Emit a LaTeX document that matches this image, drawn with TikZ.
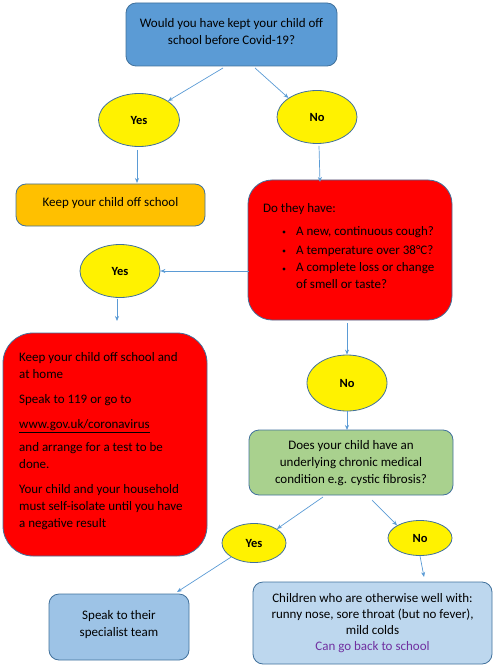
\documentclass[tikz,border=0pt]{standalone}
\usepackage{fontspec}
\setmainfont{Carlito}
\usetikzlibrary{arrows.meta,shapes.geometric}
\definecolor{bord}{HTML}{41719C}
\definecolor{arr}{HTML}{5B9BD5}
\definecolor{topblue}{HTML}{5B9BD5}
\definecolor{amber}{HTML}{FFC000}
\definecolor{green1}{HTML}{A9D18E}
\definecolor{blue2}{HTML}{9DC3E6}
\definecolor{blue3}{HTML}{BDD7EE}
\definecolor{purp}{HTML}{7030A0}
\tikzset{
  box/.style={draw=bord, line width=0.8pt, rounded corners=10pt},
  ans/.style={draw=bord, line width=0.8pt, fill=yellow, ellipse, inner sep=0pt, font=\fontsize{12.5}{14}\selectfont\bfseries},
  con/.style={draw=arr, line width=0.7pt, -{Stealth[length=5pt,width=4pt]}},
  txt/.style={font=\fontsize{13}{17}\selectfont, align=center, inner sep=0pt}
}
\begin{document}
\begin{tikzpicture}[x=1pt,y=-1pt]
\useasboundingbox (0,0) rectangle (495,668);
% top box
\draw[box, fill=topblue] (126,3) rectangle (337,66);
\node[txt] (q1) at (231.5,31.5) {Would you have kept your child off\\school before Covid-19?};
\coordinate (q1a) at (223,68);
\coordinate (q1b) at (255,68);
% ellipses
\node[ans, minimum width=81pt, minimum height=53pt] (y1) at (139,120) {Yes};
\node[ans, minimum width=80pt, minimum height=53pt] (n1) at (317,117) {No};
\draw[con] (q1a) -- (y1.north east);
\draw[con] (q1b) -- (n1.north west);
% keep box
\draw[box, fill=amber] (16,184) rectangle (205,226);
\node[txt] (k1) at (110.5,203) {Keep your child off school};
\coordinate (k1t) at (137,183);
\draw[con] (y1.south) ++(-2,3) -- (k1t);
% red box 1
\draw[box, fill=red, rounded corners=24pt] (248,180) rectangle (452,320);
\node[txt, align=left, anchor=west] (r1) at (263,209) {Do they have:};
\foreach \yy/\t in {232/{A new, continuous cough?},251/{A temperature over 38°C?}} {
  \fill (284,\yy) circle (1.7pt);
  \node[txt, anchor=west] at (296,\yy) {\t};
}
\fill (284,269) circle (1.7pt);
\node[txt, anchor=north west, align=left] (r1b) at (296,262) {A complete loss or change\\of smell or taste?};
\coordinate (r1t) at (320,182);
\draw[con] (n1.south) ++(2,2) -- (r1t);
\coordinate (r1l) at (249,271);
\node[ans, minimum width=80pt, minimum height=53pt] (y2) at (120,271) {Yes};
\draw[con] (r1l) -- (y2.east);
% red box 2
\draw[box, fill=red, rounded corners=30pt] (3,333) rectangle (207,556);
\node[txt, anchor=north west, align=left] (r2) at (19,352) {%
Keep your child off school and\\at home\\[8pt]
Speak to 119 or go to\\[8pt]
\underline{www.gov.uk/coronavirus}\\[6pt]
and arrange for a test to be\\done.\\[8pt]
Your child and your household\\must self-isolate until you have\\a negative result};
\coordinate (r2t) at (117,321);
\draw[con] (y2.south) ++(-3,1) -- (r2t);
% No 3
\coordinate (r1bot) at (347,323);
\node[ans, minimum width=80pt, minimum height=56pt] (n3) at (347,383) {No};
\draw[con] (r1bot) -- (n3.north);
% green box
\draw[box, fill=green1] (249,430) rectangle (453,495);
\node[txt] (g1) at (351,463) {Does your child have an\\underlying chronic medical\\condition e.g. cystic fibrosis?};
\coordinate (g1t) at (347,430);
\draw[con] (n3.south) -- (g1t);
% yes/no 4
\node[ans, minimum width=64pt, minimum height=39pt] (y4) at (254,543) {Yes};
\node[ans, minimum width=64pt, minimum height=35pt] (n4) at (420,538) {No};
\coordinate (g1a) at (323,497);
\coordinate (g1b) at (372,500);
\draw[con] (g1a) -- (y4.north east);
\draw[con] (g1b) -- (n4.north west);
% speak box
\draw[box, fill=blue2] (49,594) rectangle (189,660);
\node[txt] (s1) at (119,625) {Speak to their\\specialist team};
\coordinate (s1t) at (177,592);
\draw[con] (y4.south west) -- (s1t);
% children box
\draw[box, fill=blue3] (253,582) rectangle (492,664);
\node[txt, font=\fontsize{13}{16}\selectfont] (c1) at (372.5,623) {Children who are otherwise well with:\\runny nose, sore throat (but no fever),\\mild colds\\\textcolor{purp}{Can go back to school}};
\coordinate (c1t) at (424,577);
\draw[con] (n4.south) -- (c1t);
\end{tikzpicture}
\end{document}
